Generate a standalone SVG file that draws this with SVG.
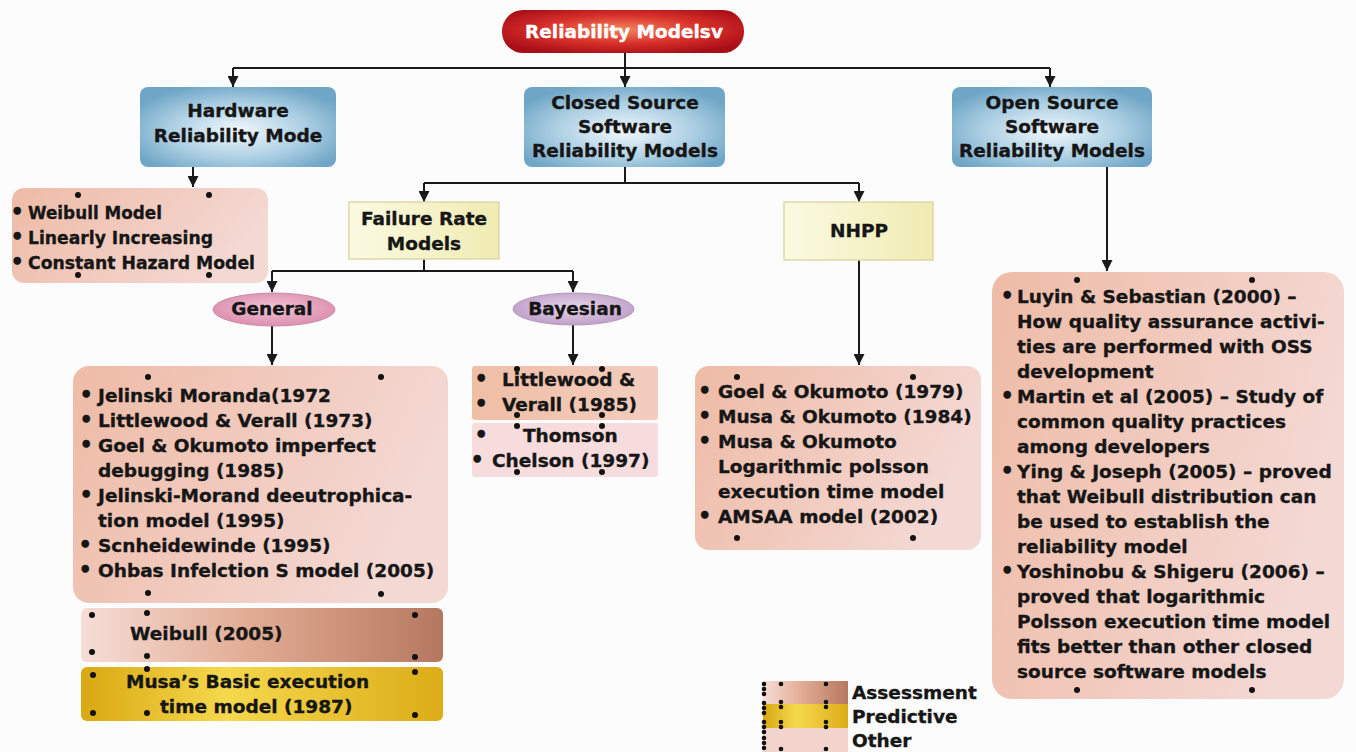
<svg xmlns="http://www.w3.org/2000/svg" width="1356" height="752" viewBox="0 0 1356 752">
<defs>
<style>
text{font-family:"DejaVu Sans","Liberation Sans",sans-serif;font-weight:bold;font-size:18.5px;fill:#161616;stroke:#161616;stroke-width:0.35px}
.c{text-anchor:middle}
.w{fill:#ffffff;stroke:#ffffff}
.b{font-size:21px}
.dot{fill:#111}
.con{fill:none;stroke:#1a1a1a;stroke-width:2}
.arr{marker-end:url(#ah)}
</style>
<marker id="ah" viewBox="0 0 10 10" refX="10" refY="5" markerWidth="11" markerHeight="11" markerUnits="userSpaceOnUse" orient="auto"><path d="M0,0 L10,5 L0,10 z" fill="#1a1a1a"/></marker>
<radialGradient id="gRed" cx="0.5" cy="0.45" r="0.6"><stop offset="0" stop-color="#f2845c"/><stop offset="0.55" stop-color="#d8302a"/><stop offset="1" stop-color="#a80e18"/></radialGradient>
<radialGradient id="gBlue" cx="0.5" cy="0.55" r="0.6"><stop offset="0" stop-color="#f2f8fc"/><stop offset="0.6" stop-color="#a9cde2"/><stop offset="1" stop-color="#6fa6c6"/></radialGradient>
<linearGradient id="gYel" x1="0" y1="0" x2="1" y2="0"><stop offset="0" stop-color="#fbfae2"/><stop offset="1" stop-color="#f0ebb2"/></linearGradient>
<radialGradient id="gGen" cx="0.5" cy="0.45" r="0.6"><stop offset="0" stop-color="#f3c4d4"/><stop offset="1" stop-color="#d98aab"/></radialGradient>
<radialGradient id="gBay" cx="0.5" cy="0.45" r="0.6"><stop offset="0" stop-color="#e6d6ea"/><stop offset="1" stop-color="#bc9ac5"/></radialGradient>
<linearGradient id="gSal" x1="0" y1="0" x2="1" y2="0.3"><stop offset="0" stop-color="#eebba6"/><stop offset="1" stop-color="#f4d8d3"/></linearGradient>
<linearGradient id="gB1" x1="0" y1="0" x2="1" y2="0"><stop offset="0" stop-color="#efbea5"/><stop offset="1" stop-color="#f3cdbf"/></linearGradient>
<linearGradient id="gAss" x1="0" y1="0" x2="1" y2="0"><stop offset="0" stop-color="#f6ddd7"/><stop offset="0.45" stop-color="#e3ad95"/><stop offset="1" stop-color="#b67760"/></linearGradient>
<linearGradient id="gPre" x1="0" y1="0" x2="1" y2="0"><stop offset="0" stop-color="#d9a812"/><stop offset="0.4" stop-color="#f5d84c"/><stop offset="1" stop-color="#dcac18"/></linearGradient>
</defs>
<rect width="1356" height="752" fill="#fcfcfc"/>

<g id="connectors">
<path class="con" d="M625,53 V68 M233,68 H1050"/>
<path class="con arr" d="M233,68 V87"/>
<path class="con arr" d="M625,68 V87"/>
<path class="con arr" d="M1050,68 V87"/>
<path class="con arr" d="M193,167 V187"/>
<path class="con" d="M625,167 V183 M424,183 H859"/>
<path class="con arr" d="M424,183 V202"/>
<path class="con arr" d="M859,183 V202"/>
<path class="con" d="M424,259 V271 M272,271 H573"/>
<path class="con arr" d="M272,271 V292"/>
<path class="con arr" d="M573,271 V292"/>
<path class="con arr" d="M272,326 V365"/>
<path class="con arr" d="M573,325 V365"/>
<path class="con arr" d="M859,260 V365"/>
<path class="con arr" d="M1107,167 V271"/>
</g>

<g id="root">
<rect x="502" y="10" width="242" height="43" rx="21" fill="url(#gRed)"/>
<text class="c w" x="624" y="38">Reliability Modelsv</text>
</g>

<g id="hardware">
<rect x="140" y="87" width="196" height="80" rx="8" fill="url(#gBlue)"/>
<text class="c" x="238" y="117">Hardware</text>
<text class="c" x="238" y="142">Reliability Mode</text>
</g>

<g id="closed">
<rect x="524" y="87" width="201" height="80" rx="8" fill="url(#gBlue)"/>
<text class="c" x="625" y="109">Closed Source</text>
<text class="c" x="625" y="133">Software</text>
<text class="c" x="625" y="157">Reliability Models</text>
</g>

<g id="open">
<rect x="952" y="87" width="200" height="80" rx="8" fill="url(#gBlue)"/>
<text class="c" x="1052" y="109">Open Source</text>
<text class="c" x="1052" y="133">Software</text>
<text class="c" x="1052" y="157">Reliability Models</text>
</g>

<g id="hw-list">
<rect x="12" y="188" width="256" height="95" rx="12" fill="url(#gSal)"/>
<text x="10.5" y="219"><tspan class="b">•</tspan><tspan x="28" textLength="134" lengthAdjust="spacingAndGlyphs">Weibull Model</tspan></text>
<text x="10.5" y="244"><tspan class="b">•</tspan><tspan x="28" textLength="185" lengthAdjust="spacingAndGlyphs">Linearly Increasing</tspan></text>
<text x="10.5" y="269"><tspan class="b">•</tspan><tspan x="28" textLength="227" lengthAdjust="spacingAndGlyphs">Constant Hazard Model</tspan></text>
<circle class="dot" cx="78" cy="195" r="3"/><circle class="dot" cx="209" cy="195" r="3"/>
<circle class="dot" cx="78" cy="275" r="3"/><circle class="dot" cx="209" cy="275" r="3"/>
</g>

<g id="failure-rate">
<rect x="349" y="202" width="150" height="57" fill="url(#gYel)" stroke="#dcd7a6" stroke-width="1.5"/>
<text class="c" x="424" y="225">Failure Rate</text>
<text class="c" x="424" y="250">Models</text>
</g>

<g id="nhpp">
<rect x="784" y="202" width="149" height="58" fill="url(#gYel)" stroke="#dcd7a6" stroke-width="1.5"/>
<text class="c" x="859" y="237">NHPP</text>
</g>

<g id="general">
<ellipse cx="274" cy="309.5" rx="61" ry="16.5" fill="url(#gGen)" stroke="#c98aa5" stroke-width="1"/>
<text class="c" x="272" y="315">General</text>
</g>

<g id="bayesian">
<ellipse cx="573.5" cy="309" rx="60.5" ry="16" fill="url(#gBay)" stroke="#b596bf" stroke-width="1"/>
<text class="c" x="575" y="315">Bayesian</text>
</g>

<g id="general-list">
<rect x="73" y="366" width="375" height="237" rx="16" fill="url(#gSal)"/>
<text x="79.5" y="402"><tspan class="b">•</tspan><tspan x="98">Jelinski Moranda(1972</tspan></text>
<text x="79.5" y="427"><tspan class="b">•</tspan><tspan x="98">Littlewood &amp; Verall (1973)</tspan></text>
<text x="79.5" y="452"><tspan class="b">•</tspan><tspan x="98">Goel &amp; Okumoto imperfect</tspan></text>
<text x="98" y="477">debugging (1985)</text>
<text x="79.5" y="502"><tspan class="b">•</tspan><tspan x="98">Jelinski-Morand deeutrophica-</tspan></text>
<text x="98" y="527">tion model (1995)</text>
<text x="78.5" y="552"><tspan class="b">•</tspan><tspan x="98">Scnheidewinde (1995)</tspan></text>
<text x="78.5" y="577"><tspan class="b">•</tspan><tspan x="98">Ohbas Infelction S model (2005)</tspan></text>
<circle class="dot" cx="148" cy="377" r="3"/><circle class="dot" cx="381" cy="377" r="3"/>
<circle class="dot" cx="148" cy="593" r="3"/><circle class="dot" cx="381" cy="594" r="3"/>
</g>

<g id="bayes-littlewood">
<rect x="472" y="366" width="186" height="54" rx="3" fill="url(#gB1)"/>
<text x="474.5" y="386"><tspan class="b">•</tspan><tspan x="502">Littlewood &amp;</tspan></text>
<text x="474.5" y="411"><tspan class="b">•</tspan><tspan x="502">Verall (1985)</tspan></text>
<circle class="dot" cx="517" cy="369" r="3"/><circle class="dot" cx="602" cy="369" r="3"/>
<circle class="dot" cx="517" cy="415" r="3"/><circle class="dot" cx="602" cy="415" r="3"/>
</g>

<g id="bayes-thomson">
<rect x="472" y="423" width="186" height="54" rx="3" fill="#f6dcdc"/>
<text x="474.5" y="442"><tspan class="b">•</tspan><tspan x="523">Thomson</tspan></text>
<text x="470.5" y="467"><tspan class="b">•</tspan><tspan x="492">Chelson (1997)</tspan></text>
<circle class="dot" cx="517" cy="426" r="3"/><circle class="dot" cx="602" cy="426" r="3"/>
<circle class="dot" cx="517" cy="472" r="3"/><circle class="dot" cx="602" cy="472" r="3"/>
</g>

<g id="nhpp-list">
<rect x="695" y="366" width="286" height="184" rx="14" fill="url(#gSal)"/>
<text x="698" y="398"><tspan class="b">•</tspan><tspan x="718">Goel &amp; Okumoto (1979)</tspan></text>
<text x="698" y="423"><tspan class="b">•</tspan><tspan x="718">Musa &amp; Okumoto (1984)</tspan></text>
<text x="698" y="448"><tspan class="b">•</tspan><tspan x="718">Musa &amp; Okumoto</tspan></text>
<text x="718" y="473">Logarithmic polsson</text>
<text x="718" y="498">execution time model</text>
<text x="698" y="523"><tspan class="b">•</tspan><tspan x="718">AMSAA model (2002)</tspan></text>
<circle class="dot" cx="737" cy="377" r="3"/><circle class="dot" cx="913" cy="377" r="3"/>
<circle class="dot" cx="737" cy="538" r="3"/><circle class="dot" cx="913" cy="538" r="3"/>
</g>

<g id="open-list">
<rect x="992" y="272" width="352" height="427" rx="20" fill="url(#gSal)"/>
<text x="1000.5" y="302.5"><tspan class="b">•</tspan><tspan x="1017">Luyin &amp; Sebastian (2000) –</tspan></text>
<text x="1017" y="327.5">How quality assurance activi-</text>
<text x="1017" y="352.5">ties are performed with OSS</text>
<text x="1017" y="377.5">development</text>
<text x="1000.5" y="402.5"><tspan class="b">•</tspan><tspan x="1017">Martin et al (2005) – Study of</tspan></text>
<text x="1017" y="427.5">common quality practices</text>
<text x="1017" y="452.5">among developers</text>
<text x="1000.5" y="477.5"><tspan class="b">•</tspan><tspan x="1017">Ying &amp; Joseph (2005) – proved</tspan></text>
<text x="1017" y="502.5">that Weibull distribution can</text>
<text x="1017" y="527.5">be used to establish the</text>
<text x="1017" y="552.5">reliability model</text>
<text x="1000.5" y="577.5"><tspan class="b">•</tspan><tspan x="1017">Yoshinobu &amp; Shigeru (2006) –</tspan></text>
<text x="1017" y="602.5">proved that logarithmic</text>
<text x="1017" y="627.5">Polsson execution time model</text>
<text x="1017" y="652.5">fits better than other closed</text>
<text x="1017" y="677.5">source software models</text>
<circle class="dot" cx="1077" cy="280" r="3"/><circle class="dot" cx="1252" cy="280" r="3"/>
<circle class="dot" cx="1077" cy="690" r="3"/><circle class="dot" cx="1252" cy="690" r="3"/>
</g>

<g id="weibull-2005">
<rect x="81" y="608" width="362" height="54" rx="6" fill="url(#gAss)"/>
<text x="130" y="640">Weibull (2005)</text>
<circle class="dot" cx="92" cy="615" r="3"/><circle class="dot" cx="147" cy="613" r="3"/><circle class="dot" cx="415" cy="615" r="3"/>
<circle class="dot" cx="92" cy="652" r="3"/><circle class="dot" cx="147" cy="656" r="3"/><circle class="dot" cx="415" cy="657" r="3"/>
</g>

<g id="musa-basic">
<rect x="81" y="667" width="362" height="54" rx="6" fill="url(#gPre)"/>
<text x="126" y="688">Musa’s Basic execution</text>
<text x="160" y="713">time model (1987)</text>
<circle class="dot" cx="93" cy="675" r="3"/><circle class="dot" cx="147" cy="669" r="3"/><circle class="dot" cx="415" cy="672" r="3"/>
<circle class="dot" cx="93" cy="713" r="3"/><circle class="dot" cx="147" cy="713" r="3"/><circle class="dot" cx="415" cy="715" r="3"/>
</g>

<g id="legend">
<rect x="763" y="681" width="85" height="23" fill="url(#gAss)"/>
<rect x="763" y="704" width="85" height="24" fill="url(#gPre)"/>
<rect x="763" y="728" width="85" height="24" fill="#f3d4cd"/>
<text x="852" y="699">Assessment</text>
<text x="852" y="723">Predictive</text>
<text x="852" y="747">Other</text>
<g class="dot">
<circle cx="764" cy="684" r="2.3"/><circle cx="764" cy="689" r="2.3"/><circle cx="764" cy="694" r="2.3"/>
<circle cx="764" cy="703" r="2.3"/><circle cx="764" cy="708" r="2.3"/><circle cx="764" cy="713" r="2.3"/>
<circle cx="764" cy="722" r="2.3"/><circle cx="764" cy="727" r="2.3"/><circle cx="764" cy="732" r="2.3"/>
<circle cx="764" cy="738" r="2.3"/><circle cx="764" cy="743" r="2.3"/><circle cx="764" cy="748" r="2.3"/>
<circle cx="781" cy="684" r="2.3"/><circle cx="781" cy="702" r="2.3"/><circle cx="781" cy="707" r="2.3"/>
<circle cx="781" cy="722" r="2.3"/><circle cx="781" cy="727" r="2.3"/><circle cx="781" cy="749" r="2.3"/>
<circle cx="826" cy="684" r="2.3"/><circle cx="826" cy="702" r="2.3"/><circle cx="826" cy="707" r="2.3"/>
<circle cx="826" cy="722" r="2.3"/><circle cx="826" cy="727" r="2.3"/><circle cx="826" cy="749" r="2.3"/>
</g>
</g>
</svg>
